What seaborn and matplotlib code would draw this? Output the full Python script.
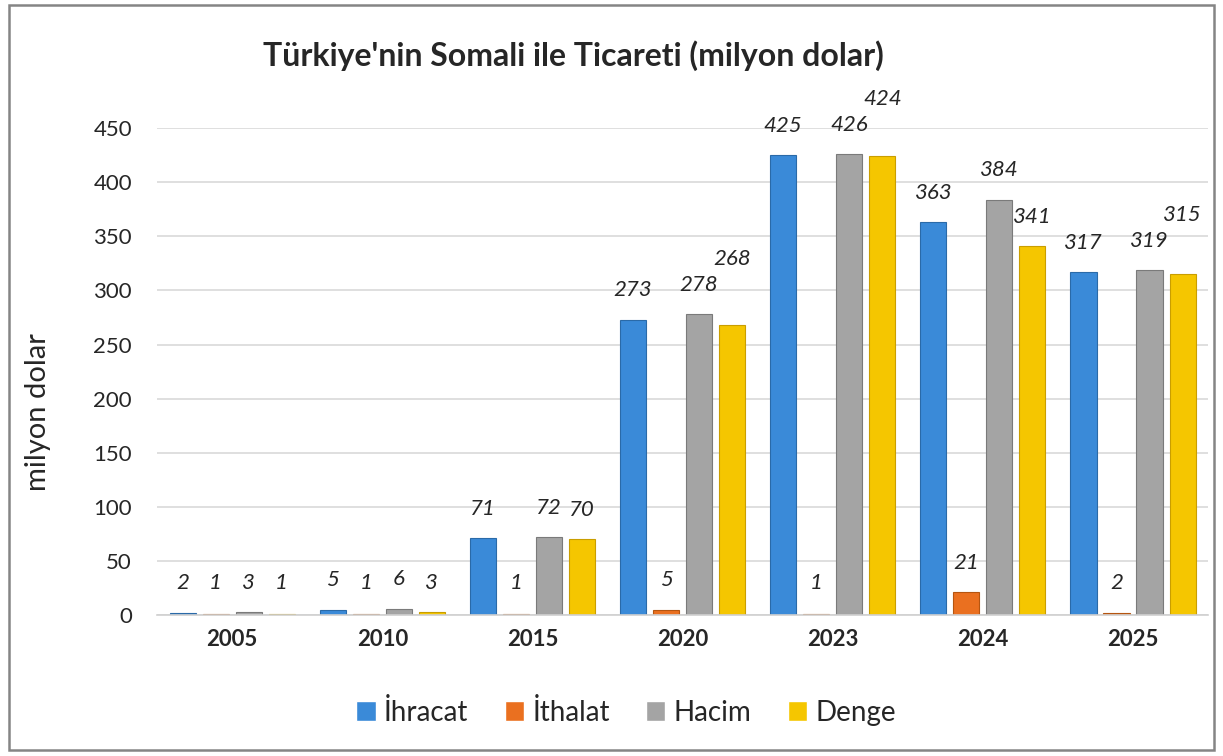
import pandas as pd
import numpy as np
import matplotlib.pyplot as plt
import seaborn as sns
from matplotlib.patches import Rectangle

years = ["2005", "2010", "2015", "2020", "2023", "2024", "2025"]
ihracat = [2, 5, 71, 273, 425, 363, 317]
ithalat = [1, 1, 1, 5, 1, 21, 2]
hacim = [3, 6, 72, 278, 426, 384, 319]
denge = [1, 3, 70, 268, 424, 341, 315]
series = ["İhracat", "İthalat", "Hacim", "Denge"]

df = pd.DataFrame({"Yıl": years, "İhracat": ihracat, "İthalat": ithalat,
                   "Hacim": hacim, "Denge": denge})
df = df.melt(id_vars="Yıl", var_name="Seri", value_name="Değer")

sns.set_style("white")
plt.rcParams["font.family"] = ["Lato", "DejaVu Sans"]

colors = ["#3a8ad8", "#ea7020", "#a4a4a4", "#f5c600"]
edges = ["#2a6aa8", "#b55510", "#7a7a7a", "#c99e00"]

fig = plt.figure(figsize=(12.23, 7.56), dpi=100)
ax = fig.add_axes([0.1284, 0.1865, 0.8594, 0.644])

sns.barplot(data=df, x="Yıl", y="Değer", hue="Seri", hue_order=series,
            palette=colors, gap=0.21, width=0.88, ax=ax, saturation=1)

# label positions: above the bar, lifted when it would hit its neighbour
labels = []
for cont, ec, name in zip(ax.containers, edges, series):
    for bar in cont:
        bar.set_edgecolor(ec)
        bar.set_linewidth(0.8)
    vals = df[df["Seri"] == name]["Değer"].tolist()
    for bar, v in zip(cont, vals):
        labels.append((bar.get_x() + bar.get_width() / 2, v))
labels.sort()
prev = None
for x, v in labels:
    y = max(v, 3) + 27
    if prev is not None and len(str(v)) + len(str(prev[1])) >= 6 \
            and abs(y - prev[2]) < 20 and x - prev[0] < 0.3:
        y = prev[2] + 24
    ax.text(x, y, str(v), ha="center", va="center",
            fontsize=16, style="italic", clip_on=False)
    prev = (x, v, y)

ax.set_ylim(0, 450)
ax.set_yticks(range(0, 451, 50))
ax.yaxis.grid(True, color="#d9d9d9", linewidth=1.2)
ax.set_axisbelow(True)
for s in ["top", "right", "left"]:
    ax.spines[s].set_visible(False)
ax.spines["bottom"].set_color("#d0d0d0")
ax.spines["bottom"].set_linewidth(1.2)
ax.tick_params(axis="both", length=0, labelsize=16)
ax.tick_params(axis="y", pad=18)
ax.tick_params(axis="x", pad=10)
for t in ax.get_xticklabels():
    t.set_fontweight("bold")
ax.set_xlabel("")
ax.set_ylabel("")
fig.text(0.031, 0.455, "milyon dolar", rotation=90, ha="center", va="center",
         fontsize=21)

ax.legend(loc="center", bbox_to_anchor=(0.512, 0.058), bbox_transform=fig.transFigure,
          ncol=4, frameon=False, fontsize=20, handlelength=0.7, handleheight=0.7,
          handletextpad=0.3, columnspacing=1.3)

fig.text(0.4685, 0.927, "Türkiye'nin Somali ile Ticareti (milyon dolar)",
         ha="center", va="center", fontsize=23, fontweight="bold")

fig.patches.append(Rectangle((0.007, 0.008), 0.986, 0.986, transform=fig.transFigure,
                             fill=False, edgecolor="#858585", linewidth=1.8))

fig.savefig("out.png", dpi=100)
